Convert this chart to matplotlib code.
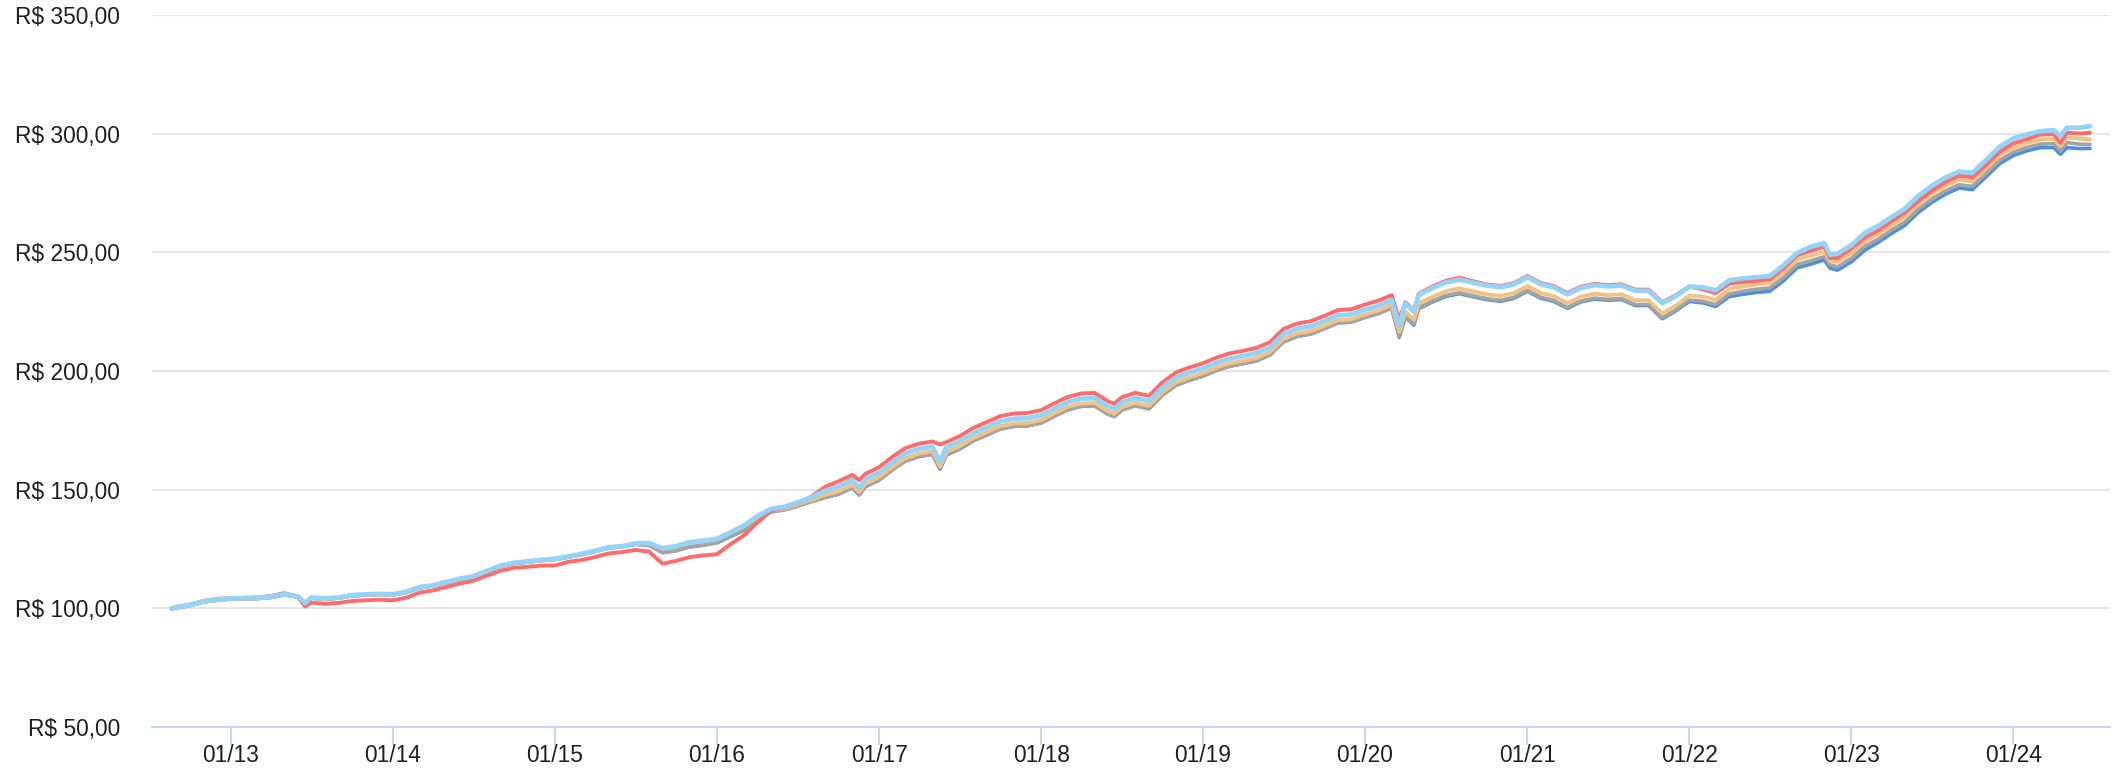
import matplotlib
matplotlib.use("Agg")
import matplotlib.pyplot as plt
import pandas as pd

plt.rcParams['font.family'] = ['Liberation Sans', 'DejaVu Sans']

# ---------------- data ----------------
dates = [
    "2012-08-20", "2012-09-01", "2012-10-01", "2012-11-01", "2012-12-01",
    "2013-01-01", "2013-02-01", "2013-03-01", "2013-04-01", "2013-05-01", "2013-06-01", "2013-06-17",
    "2013-07-01", "2013-08-01", "2013-09-01", "2013-10-01", "2013-11-01", "2013-12-01",
    "2014-01-01", "2014-02-01", "2014-03-01", "2014-04-01", "2014-05-01", "2014-06-01",
    "2014-07-01", "2014-08-01", "2014-09-01", "2014-10-01", "2014-11-01", "2014-12-01",
    "2015-01-01", "2015-02-01", "2015-03-01", "2015-04-01", "2015-05-01", "2015-06-01",
    "2015-07-01", "2015-08-01", "2015-09-01", "2015-10-01", "2015-11-01", "2015-12-01",
    "2016-01-01", "2016-02-01", "2016-03-01", "2016-04-01", "2016-05-01", "2016-06-01",
    "2016-07-01", "2016-08-01", "2016-09-01", "2016-10-01", "2016-11-01", "2016-11-17", "2016-12-01",
    "2017-01-01", "2017-02-01", "2017-03-01", "2017-04-01", "2017-05-01", "2017-05-18", "2017-06-01",
    "2017-07-01", "2017-08-01", "2017-09-01", "2017-10-01", "2017-11-01", "2017-12-01",
    "2018-01-01", "2018-02-01", "2018-03-01", "2018-04-01", "2018-05-01", "2018-06-01", "2018-06-15",
    "2018-07-01", "2018-08-01", "2018-09-01", "2018-10-01", "2018-11-01", "2018-12-01",
    "2019-01-01", "2019-02-01", "2019-03-01", "2019-04-01", "2019-05-01", "2019-06-01",
    "2019-07-01", "2019-08-01", "2019-09-01", "2019-10-01", "2019-11-01", "2019-12-01",
    "2020-01-01", "2020-02-01", "2020-03-01", "2020-03-18", "2020-04-01", "2020-04-20", "2020-05-01",
    "2020-06-01", "2020-07-01", "2020-08-01", "2020-09-01", "2020-10-01", "2020-11-01", "2020-12-01",
    "2021-01-01", "2021-02-01", "2021-03-01", "2021-04-01", "2021-05-01", "2021-06-01",
    "2021-07-01", "2021-08-01", "2021-09-01", "2021-10-01", "2021-11-01", "2021-12-01",
    "2022-01-01", "2022-02-01", "2022-03-01", "2022-04-01", "2022-05-01", "2022-06-01",
    "2022-07-01", "2022-08-01", "2022-09-01", "2022-10-01", "2022-11-01", "2022-11-14", "2022-12-01",
    "2023-01-01", "2023-02-01", "2023-03-01", "2023-04-01", "2023-05-01", "2023-06-01",
    "2023-07-01", "2023-08-01", "2023-09-01", "2023-10-01", "2023-11-01", "2023-12-01",
    "2024-01-01", "2024-02-01", "2024-03-01", "2024-04-01", "2024-04-16", "2024-05-01",
    "2024-06-01", "2024-06-22",
]

serie_azul_claro = [
    100.0, 100.5, 101.5, 103.0, 103.7,
    104.2, 104.3, 104.4, 104.9, 106.0, 105.0, 102.2,
    104.6, 104.2, 104.6, 105.6, 105.9, 106.1,
    105.9, 107.0, 108.9, 109.7, 111.1, 112.5,
    113.5, 115.8, 118.0, 119.2, 119.8, 120.4,
    120.9, 121.9, 122.9, 124.2, 125.7, 126.2,
    127.4, 127.5, 125.3, 126.2, 127.9, 128.5,
    129.3, 132.0, 134.8, 138.8, 141.8, 142.8,
    144.6, 146.8, 149.5, 151.3, 154.0, 150.8, 154.5,
    157.3, 161.8, 165.3, 167.2, 168.1, 161.8, 167.8,
    170.3, 173.8, 176.3, 178.8, 179.9, 180.1,
    181.3, 184.3, 186.8, 188.3, 188.6, 185.0, 184.0,
    186.7, 188.6, 187.3, 193.0, 197.2, 199.3,
    201.1, 203.5, 205.2, 206.3, 207.5, 210.0,
    215.5, 217.8, 218.8, 221.0, 223.5, 223.8,
    225.8, 227.5, 230.0, 219.0, 228.5, 225.0, 232.0,
    235.0, 237.3, 238.5, 237.2, 236.0, 235.3, 236.5,
    239.5, 236.5, 235.3, 232.3, 235.0, 236.2,
    235.7, 236.0, 233.8, 233.8, 228.6, 231.5,
    235.6, 235.2, 234.0, 238.2, 239.0, 239.5,
    240.0, 244.5, 249.8, 252.3, 253.8, 249.0, 249.5,
    253.0, 258.3, 261.0, 264.8, 268.3, 273.8,
    278.0, 281.5, 284.0, 283.5, 289.0, 294.5,
    298.0, 299.7, 301.0, 301.5, 299.0, 302.5,
    302.5, 303.2,
]

serie_vermelha = [
    100.0, 100.6, 101.6, 103.1, 104.0,
    104.3, 104.4, 104.6, 105.2, 106.4, 104.8, 100.8,
    102.4, 101.9, 102.3, 103.1, 103.4, 103.6,
    103.4, 104.5, 106.6, 107.5, 109.0, 110.5,
    111.6, 113.8, 115.9, 117.1, 117.5, 118.0,
    118.1, 119.6, 120.3, 121.6, 123.1, 123.7,
    124.6, 123.9, 118.8, 120.0, 121.6, 122.3,
    122.8, 127.0, 130.6, 136.0, 141.1, 142.5,
    144.3, 147.0, 151.2, 153.5, 156.2, 154.0, 156.7,
    159.5, 164.0, 167.5, 169.4, 170.3, 169.0, 170.0,
    172.5, 176.0, 178.5, 181.0, 182.1, 182.3,
    183.5, 186.5, 189.0, 190.5, 190.8, 187.2, 186.2,
    188.9, 190.8, 189.5, 195.2, 199.4, 201.5,
    203.3, 205.7, 207.4, 208.5, 209.7, 212.2,
    217.7, 220.0, 221.0, 223.2, 225.7, 226.0,
    228.0, 229.7, 232.0, 221.5, 229.0, 225.5, 232.5,
    235.6, 238.0, 239.3, 237.8, 236.5, 235.8, 237.0,
    240.0, 237.0, 235.8, 232.8, 235.5, 236.7,
    236.2, 236.5, 234.3, 234.3, 229.0, 231.9,
    235.5, 234.4, 232.8, 236.8, 237.5, 238.0,
    238.6, 243.2, 248.8, 250.6, 252.4, 247.6, 247.6,
    251.6, 256.3, 259.0, 263.0, 266.6, 271.7,
    275.9, 279.6, 282.3, 281.6, 286.9, 292.4,
    295.9, 297.7, 299.6, 299.8, 296.2, 300.4,
    300.1, 300.4,
]

serie_laranja = [
    99.9, 100.3, 101.3, 102.8, 103.5,
    104.0, 104.1, 104.2, 104.7, 105.8, 104.8, 102.0,
    104.4, 104.0, 104.4, 105.4, 105.7, 105.9,
    105.7, 106.8, 108.7, 109.5, 110.9, 112.3,
    113.3, 115.6, 117.8, 119.0, 119.6, 120.2,
    120.7, 121.7, 122.7, 124.0, 125.5, 126.0,
    127.2, 127.3, 125.0, 125.9, 127.6, 128.2,
    129.0, 131.7, 134.5, 138.3, 141.2, 142.0,
    143.7, 145.7, 147.8, 149.3, 152.0, 149.0, 152.5,
    155.3, 159.8, 163.3, 165.2, 166.1, 159.8, 165.8,
    168.3, 171.8, 174.3, 176.8, 177.9, 178.1,
    179.3, 182.3, 184.8, 186.3, 186.6, 183.0, 182.0,
    184.7, 186.6, 185.3, 191.0, 195.2, 197.3,
    199.1, 201.5, 203.2, 204.3, 205.5, 208.0,
    213.5, 215.8, 216.8, 219.0, 221.5, 221.8,
    223.8, 225.5, 228.0, 216.5, 225.0, 221.5, 228.5,
    231.3, 233.6, 234.8, 233.5, 232.3, 231.6, 232.8,
    235.8, 232.8, 231.6, 228.6, 231.3, 232.5,
    232.0, 232.3, 229.8, 229.8, 224.2, 227.5,
    231.8, 231.3, 230.0, 234.5, 235.6, 236.5,
    237.0, 241.5, 247.0, 248.5, 250.3, 246.2, 246.0,
    249.5, 254.7, 257.5, 261.4, 264.8, 270.3,
    274.5, 278.0, 280.6, 279.9, 285.4, 290.8,
    294.1, 296.0, 297.5, 297.8, 294.8, 298.3,
    297.9, 297.6,
]

serie_cinza = [
    99.8, 100.2, 101.2, 102.7, 103.4,
    103.9, 104.0, 104.1, 104.6, 105.7, 104.7, 101.9,
    104.3, 103.9, 104.3, 105.3, 105.6, 105.8,
    105.6, 106.7, 108.6, 109.4, 110.8, 112.2,
    113.2, 115.5, 117.7, 118.9, 119.5, 120.1,
    120.6, 121.6, 122.6, 123.9, 125.4, 125.9,
    127.0, 126.6, 123.5, 124.3, 125.9, 126.6,
    127.6, 130.3, 132.8, 137.3, 140.6, 141.5,
    143.1, 145.0, 146.7, 148.1, 150.8, 147.8, 151.3,
    154.1, 158.6, 162.1, 164.0, 164.9, 158.6, 164.6,
    167.1, 170.6, 173.1, 175.6, 176.7, 176.9,
    178.1, 181.1, 183.6, 185.1, 185.4, 181.8, 180.8,
    183.5, 185.4, 184.1, 189.8, 194.0, 196.1,
    197.9, 200.3, 202.0, 203.1, 204.3, 206.8,
    212.3, 214.6, 215.6, 217.8, 220.3, 220.6,
    222.6, 224.3, 226.6, 214.5, 223.2, 219.7, 226.7,
    229.5, 231.8, 233.0, 231.7, 230.5, 229.8, 231.0,
    234.0, 231.0, 229.8, 226.8, 229.5, 230.7,
    230.2, 230.5, 228.0, 228.0, 222.4, 225.7,
    229.9, 229.4, 228.0, 232.5, 233.6, 234.5,
    235.0, 239.4, 244.9, 246.4, 248.2, 244.7, 243.9,
    247.4, 252.7, 255.4, 259.3, 262.7, 268.2,
    272.4, 275.9, 278.5, 277.8, 283.3, 288.7,
    292.2, 294.2, 295.6, 295.8, 292.7, 296.2,
    295.5, 295.5,
]

serie_azul = [
    99.8, 100.2, 101.2, 102.7, 103.4,
    103.9, 104.0, 104.1, 104.6, 105.7, 104.7, 101.9,
    104.3, 103.9, 104.3, 105.3, 105.6, 105.8,
    105.6, 106.7, 108.6, 109.4, 110.8, 112.2,
    113.2, 115.5, 117.7, 118.9, 119.5, 120.1,
    120.6, 121.6, 122.6, 123.9, 125.4, 125.9,
    127.0, 126.6, 123.5, 124.3, 125.9, 126.6,
    127.6, 130.3, 132.8, 137.3, 140.6, 141.5,
    143.1, 145.0, 146.7, 148.1, 150.8, 147.8, 151.3,
    154.1, 158.6, 162.1, 164.0, 164.9, 158.6, 164.6,
    167.1, 170.6, 173.1, 175.6, 176.7, 176.9,
    178.1, 181.1, 183.6, 185.1, 185.4, 181.8, 180.8,
    183.5, 185.4, 184.1, 189.8, 194.0, 196.1,
    197.9, 200.3, 202.0, 203.1, 204.3, 206.8,
    212.3, 214.6, 215.6, 217.8, 220.3, 220.6,
    222.6, 224.3, 226.6, 214.2, 222.8, 219.3, 226.3,
    229.1, 231.4, 232.6, 231.3, 230.1, 229.4, 230.6,
    233.6, 230.6, 229.4, 226.4, 229.1, 230.3,
    229.8, 230.1, 227.6, 227.6, 222.0, 225.3,
    229.3, 228.7, 227.2, 231.4, 232.3, 233.1,
    233.6, 238.0, 243.5, 245.0, 246.8, 243.3, 242.5,
    246.0, 251.0, 254.0, 257.9, 261.3, 266.8,
    271.0, 274.5, 277.1, 276.4, 281.9, 287.3,
    290.8, 292.8, 294.1, 294.2, 291.3, 294.1,
    293.7, 293.8,
]

y_ticks = [50, 100, 150, 200, 250, 300, 350]
x_tick_dates = ["2013-01-01", "2014-01-01", "2015-01-01", "2016-01-01", "2017-01-01", "2018-01-01",
                "2019-01-01", "2020-01-01", "2021-01-01", "2022-01-01", "2023-01-01", "2024-01-01"]
x_tick_labels = ["01/13", "01/14", "01/15", "01/16", "01/17", "01/18",
                 "01/19", "01/20", "01/21", "01/22", "01/23", "01/24"]

# ---------------- figure ----------------
W, H = 2127, 768
fig = plt.figure(figsize=(W / 100, H / 100), dpi=100)
left, right, top, bottom = 152, 2110, 15, 727
ax = fig.add_axes([left / W, 1 - bottom / H, (right - left) / W, (bottom - top) / H])

x = pd.to_datetime(dates)
series = [
    (serie_azul, "#4a8fe3", 2.6),
    (serie_cinza, "#a3a3a3", 2.6),
    (serie_laranja, "#f0c283", 2.8),
    (serie_vermelha, "#ff6a6a", 2.8),
    (serie_azul_claro, "#92d3f7", 3.4),
]
for vals, col, lw in series:
    ax.plot(x, vals, color=col, lw=lw, solid_joinstyle="round", solid_capstyle="round")

ax.set_ylim(50, 350)
ax.set_yticks(y_ticks)
ax.set_yticklabels(["R$ %d,00" % v for v in y_ticks])
ax.set_xlim(pd.Timestamp("2012-07-07"), pd.Timestamp("2024-08-06"))
ax.set_xticks(pd.to_datetime(x_tick_dates))
ax.set_xticklabels(x_tick_labels)

ax.yaxis.grid(True, color="#e6e6e6", lw=1.5)
ax.set_axisbelow(True)
for s in ("top", "right", "left"):
    ax.spines[s].set_visible(False)
ax.spines["bottom"].set_color("#ccd6eb")
ax.spines["bottom"].set_linewidth(1.5)

ax.tick_params(axis="y", length=0, pad=23, labelsize=16.4, labelcolor="#1f1f1f")
ax.tick_params(axis="x", length=13, width=1.5, color="#ccd6eb", pad=-1, labelsize=16.4,
               labelcolor="#1f1f1f")

fig.savefig("out.png", dpi=100)
